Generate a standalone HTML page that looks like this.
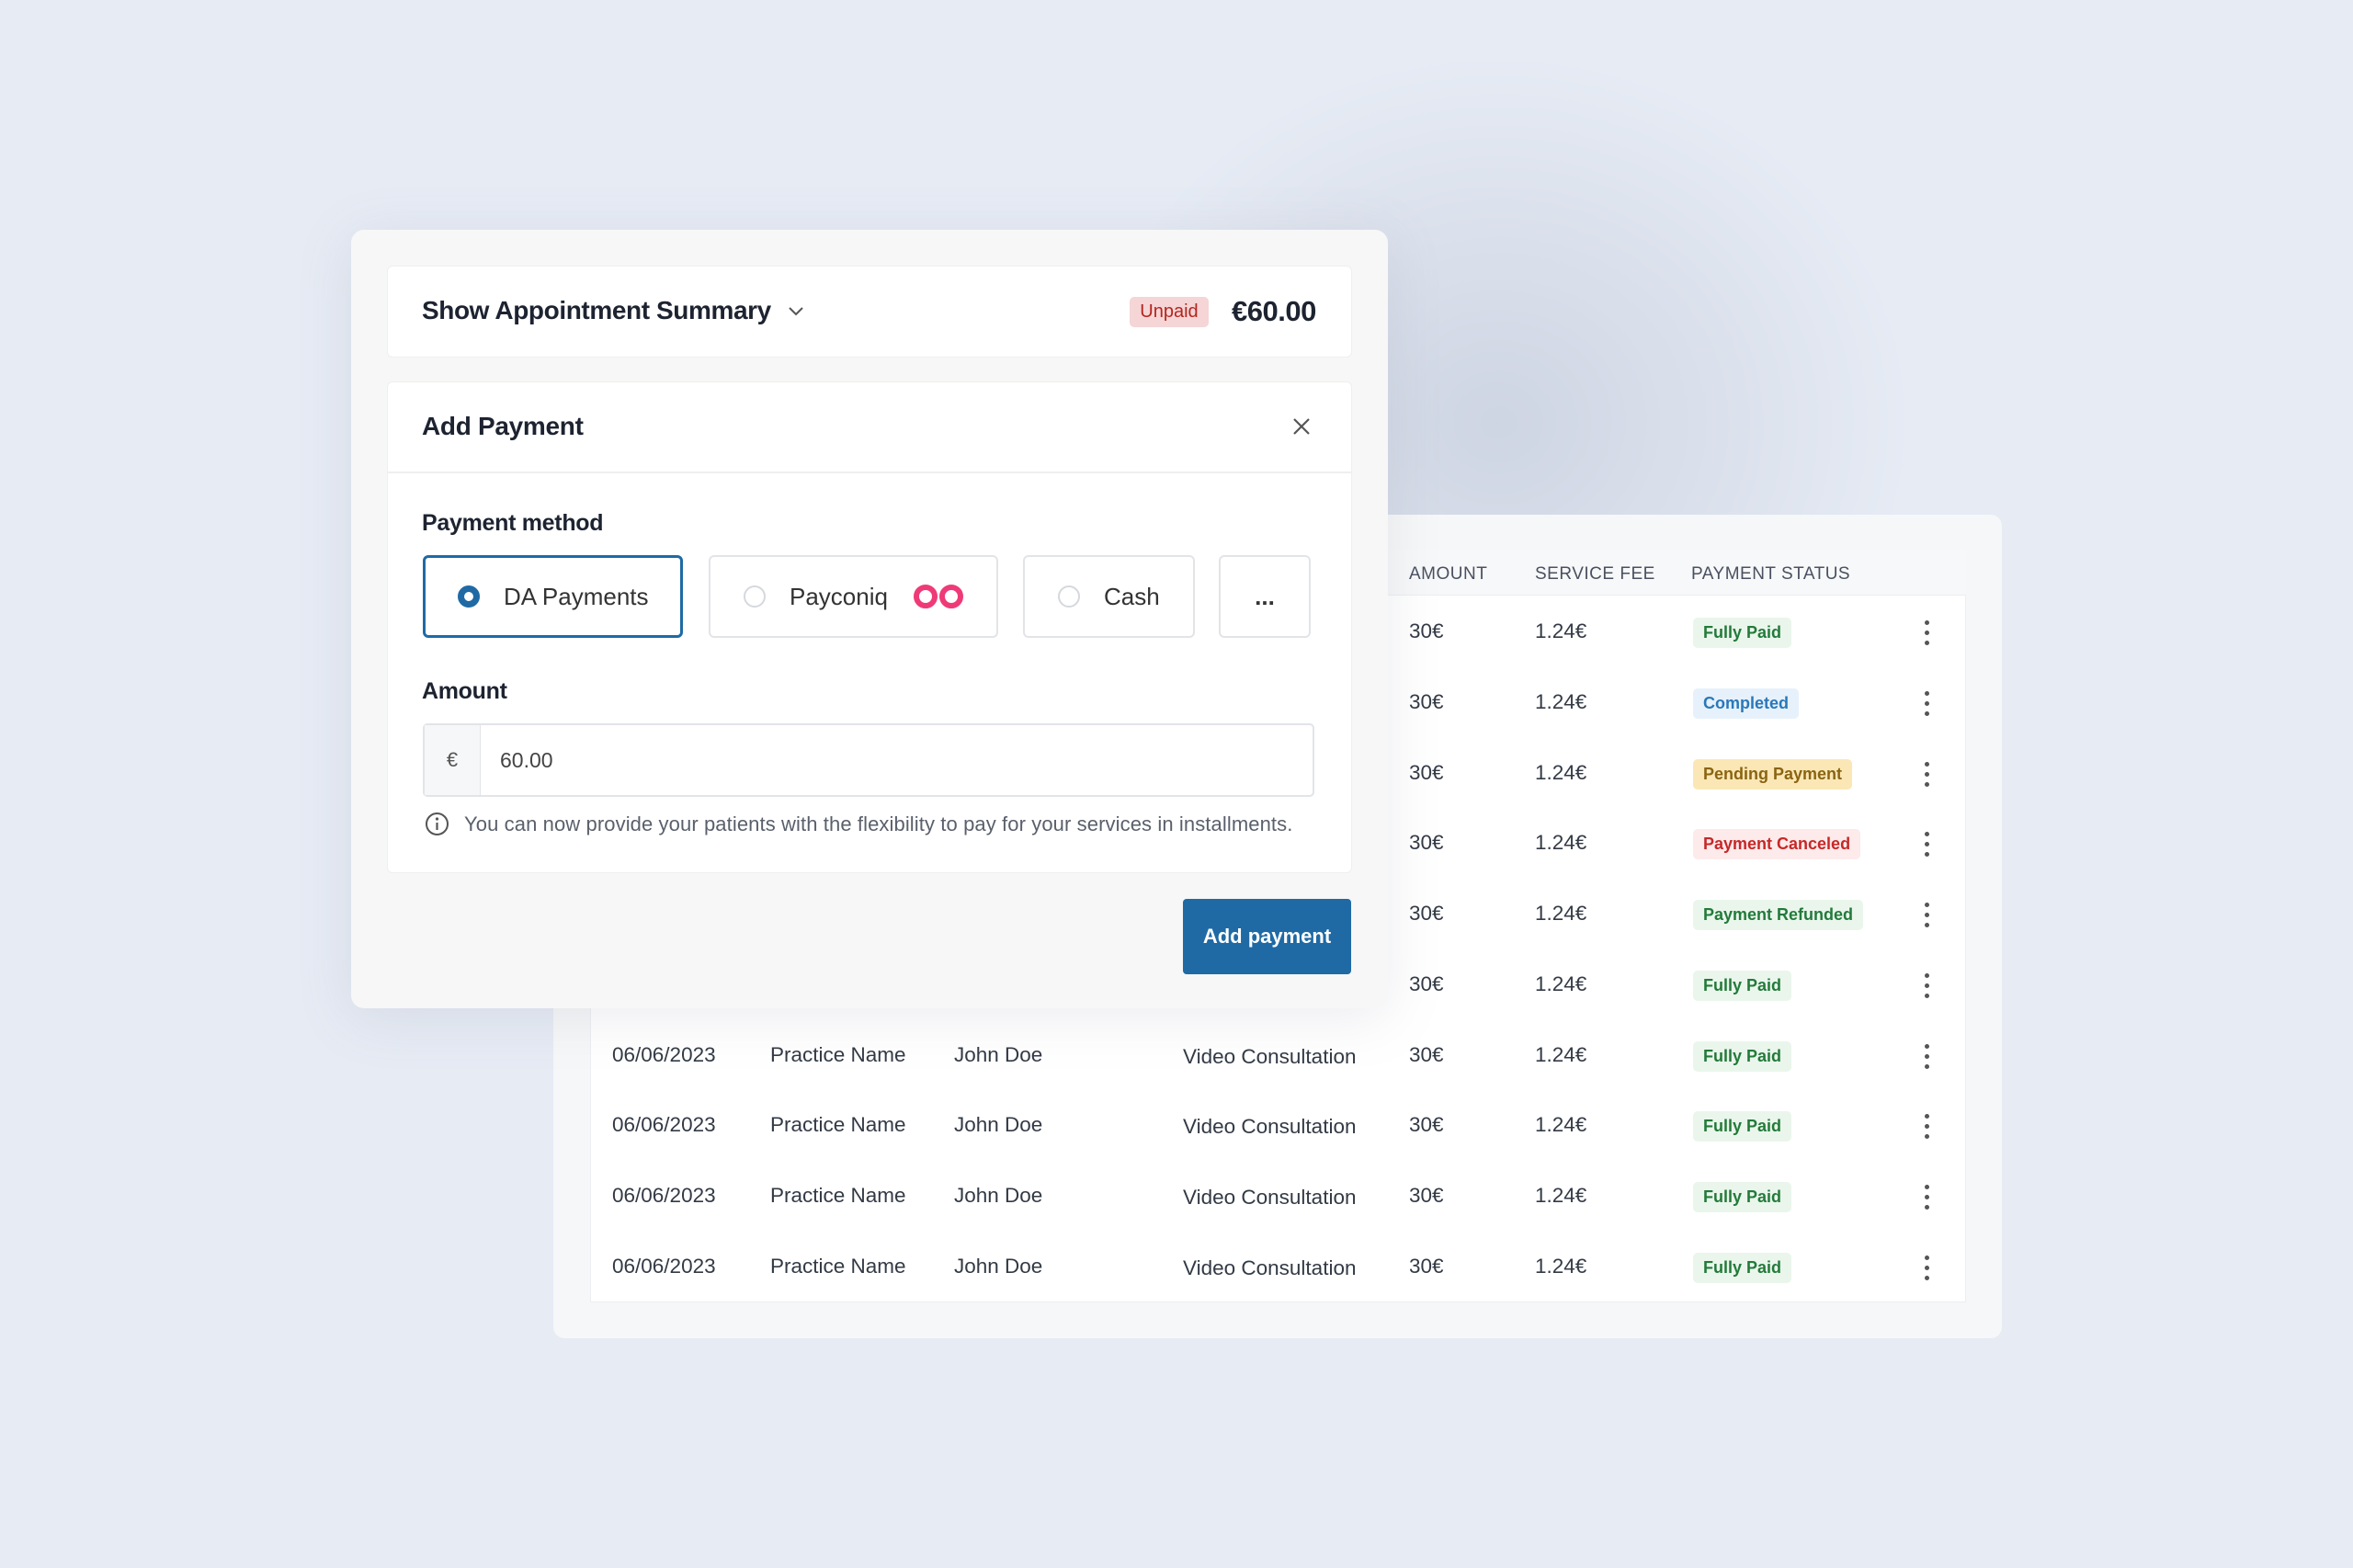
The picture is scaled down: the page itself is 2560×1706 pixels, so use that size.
<!DOCTYPE html>
<html><head><meta charset="utf-8"><style>
*{box-sizing:border-box;margin:0;padding:0}
body{width:2560px;height:1706px;background:#e6ebf4;font-family:"Liberation Sans",sans-serif;position:relative;overflow:hidden;color:#1d2330}
.abs{position:absolute}
.glow{left:1180px;top:60px;width:900px;height:800px;border-radius:50%;background:radial-gradient(closest-side,rgba(190,198,215,.6),rgba(230,235,244,0));}
.back{left:602px;top:560px;width:1576px;height:896px;background:#f6f7f8;border-radius:12px}
.panel{left:642px;top:598px;width:1497px;height:819px;background:#fff;border:1px solid #eceef1}
.hdr{left:642px;top:598px;width:1497px;height:50px;background:#f7f8f9;border-bottom:1px solid #eceef1}
.th{font-size:19px;color:#4a5060;letter-spacing:.5px;top:614px}
.td{font-size:22.5px;color:#333a45}
.badge{font-size:18px;font-weight:bold;padding:6px 11px;border-radius:5px}
.g{background:#eaf6ec;color:#237a3a}.b{background:#e6f1fb;color:#2a78b8}.y{background:#fbe7b5;color:#8a6412}.r{background:#fdeaea;color:#c62828}
.dots{width:5px;font-size:0}
.dots i{display:block;width:5px;height:5px;border-radius:50%;background:#555;margin-bottom:6px}
.front{left:382px;top:250px;width:1128px;height:847px;background:#f7f7f7;border-radius:14px;box-shadow:0 10px 60px rgba(120,130,150,.15)}
.box{background:#fff;border:1px solid #eeeff1;border-radius:6px}
.opt{border:2px solid #e2e4e8;border-radius:6px;background:#fff;height:90px;display:flex;align-items:center;font-size:26px;color:#333}
.rad{width:24px;height:24px;border-radius:50%;border:2px solid #d5d8dd;margin-right:26px}
</style></head><body>
<div class="abs glow"></div>
<div class="abs back"></div>
<div class="abs panel"></div>
<div class="abs hdr"></div>
<div class="abs th" style="left:1533px">AMOUNT</div>
<div class="abs th" style="left:1670px">SERVICE FEE</div>
<div class="abs th" style="left:1840px">PAYMENT STATUS</div>

<div id="rows"></div>
<script>
var st=[["g","Fully Paid"],["b","Completed"],["y","Pending Payment"],["r","Payment Canceled"],["g","Payment Refunded"],["g","Fully Paid"],["g","Fully Paid"],["g","Fully Paid"],["g","Fully Paid"],["g","Fully Paid"]];
var h="";
for(var i=0;i<10;i++){var c=688+i*76.75;var t=c-14;
if(i>=6){h+='<div class="abs td" style="left:666px;top:'+t+'px">06/06/2023</div><div class="abs td" style="left:838px;top:'+t+'px">Practice Name</div><div class="abs td" style="left:1038px;top:'+t+'px">John Doe</div><div class="abs td" style="left:1287px;top:'+(t+2)+'px">Video Consultation</div>';}
h+='<div class="abs td" style="left:1533px;top:'+t+'px">30€</div><div class="abs td" style="left:1670px;top:'+t+'px">1.24€</div>';
h+='<div class="abs badge '+st[i][0]+'" style="left:1842px;top:'+(c-16)+'px">'+st[i][1]+'</div>';
h+='<div class="abs dots" style="left:2094px;top:'+(c-13)+'px"><i></i><i></i><i></i></div>';}
document.getElementById("rows").innerHTML=h;
</script>

<div class="abs front"></div>
<div class="abs box" style="left:421px;top:289px;width:1050px;height:100px"></div>
<div class="abs" style="left:459px;top:322px;font-size:28px;font-weight:bold;color:#1d2330;letter-spacing:-0.4px">Show Appointment Summary</div>
<svg class="abs" style="left:857px;top:333px" width="18" height="12"><path d="M2 2l7 7 7-7" stroke="#555" stroke-width="2" fill="none"/></svg>
<div class="abs" style="left:1229px;top:323px;width:86px;height:33px;background:#f5d5d6;border-radius:5px;color:#b3261e;font-size:20px;text-align:center;line-height:33px">Unpaid</div>
<div class="abs" style="left:1340px;top:321px;font-size:31px;font-weight:bold;color:#1d2330;letter-spacing:-0.5px">€60.00</div>

<div class="abs box" style="left:421px;top:415px;width:1050px;height:535px"></div>
<div class="abs" style="left:421px;top:513px;width:1050px;height:2px;background:#eeeff1"></div>
<div class="abs" style="left:459px;top:448px;font-size:28px;font-weight:bold;letter-spacing:-0.3px">Add Payment</div>
<svg class="abs" style="left:1405px;top:453px" width="22" height="22"><path d="M3 3l16 16M19 3L3 19" stroke="#555" stroke-width="2.2"/></svg>
<div class="abs" style="left:459px;top:555px;font-size:25px;font-weight:bold;letter-spacing:-0.3px">Payment method</div>
<div class="abs opt" style="left:460px;top:604px;width:283px;border-color:#1f6aa5;border-width:3px;padding-left:35px"><span class="rad" style="border:7px solid #1f6aa5"></span>DA Payments</div>
<div class="abs opt" style="left:771px;top:604px;width:315px;padding-left:36px"><span class="rad"></span>Payconiq<svg style="margin-left:26px" width="58" height="30"><circle cx="15" cy="15" r="10" stroke="#ef3a78" stroke-width="6" fill="none"/><circle cx="43" cy="15" r="10" stroke="#ef3a78" stroke-width="6" fill="none"/></svg></div>
<div class="abs opt" style="left:1113px;top:604px;width:187px;padding-left:36px"><span class="rad"></span>Cash</div>
<div class="abs opt" style="left:1326px;top:604px;width:100px;justify-content:center;font-weight:bold">...</div>
<div class="abs" style="left:459px;top:738px;font-size:25px;font-weight:bold;letter-spacing:-0.3px">Amount</div>
<div class="abs" style="left:460px;top:787px;width:970px;height:80px;border:2px solid #e2e4e8;border-radius:5px;background:#fff"></div>
<div class="abs" style="left:462px;top:789px;width:61px;height:76px;background:#f6f7f9;border-right:1px solid #e2e4e8;font-size:22px;color:#555;text-align:center;line-height:76px">€</div>
<div class="abs" style="left:544px;top:814px;font-size:23px;color:#444">60.00</div>
<svg class="abs" style="left:462px;top:883px" width="27" height="27"><circle cx="13.5" cy="13.5" r="11.5" stroke="#555" stroke-width="2" fill="none"/><path d="M13.5 12v8" stroke="#555" stroke-width="2.2"/><circle cx="13.5" cy="8" r="1.6" fill="#555"/></svg>
<div class="abs" style="left:505px;top:884px;font-size:22px;color:#5a606b;letter-spacing:0.1px">You can now provide your patients with the flexibility to pay for your services in installments.</div>
<div class="abs" style="left:1287px;top:978px;width:183px;height:82px;background:#1f6aa5;border-radius:4px;color:#fff;font-size:22px;font-weight:bold;text-align:center;line-height:82px">Add payment</div>
</body></html>
